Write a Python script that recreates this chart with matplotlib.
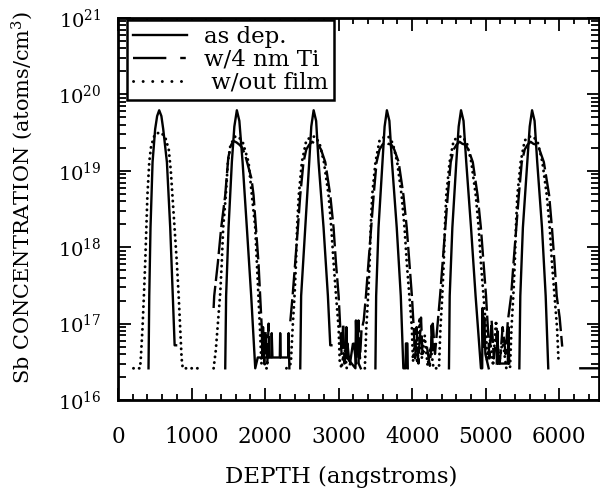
import matplotlib
matplotlib.use('Agg')
import matplotlib.pyplot as plt
from matplotlib.lines import Line2D
from matplotlib.ticker import MultipleLocator, LogLocator, NullFormatter, FixedLocator

nan = float('nan')

# ---- data ----
asdep_depth = [415, 425, 442, 470, 505, 532, 560, 590, 615, 665, 710, 745, 770, 790, nan,
               1458, 1470, 1503, 1548, 1582, 1616, 1650, 1694, 1752, 1811, 1866, 1900, 1960, 1965, 1975,
               2085, 2090, 2100, 2200, 2205, 2212, 2315, 2320, 2330, nan,
               2478, 2490, 2546, 2600, 2628, 2660,
               2694, 2727, 2795, 2854, 2886, 2902, nan,
               3060, 3100, 3105, 3112, 3228, 3235, 3248, 3262, 3272, 3300, nan,
               3500, 3510, 3542, 3596, 3625, 3656, 3690, 3725, 3790, 3845, 3880, 3910, 3915, 3935, 3940, nan,
               4258, 4265, 4282, nan,
               4500, 4510, 4546, 4600, 4632, 4664, 4698, 4735, 4800, 4862, 4935, 4952, 4956, 4966, 4980,
               4995, 5040, nan, 5150, 5158, 5168, 5300, 5308, 5318, nan,
               5457, 5470, 5505, 5565, 5598, 5630, 5664, 5700, 5765, 5815, 5850]
asdep_conc = [2.6e16, 2.3e17, 1.8e18, 1.3e19, 3.5e19, 5.2e19, 6.2e19, 5.2e19, 3.5e19, 1.3e19, 1.8e18, 2.3e17, 5.2e16, 5.2e16, nan,
              2.6e16, 2.3e17, 1.8e18, 1.3e19, 3.8e19, 6.2e19, 4.5e19, 1.3e19, 1.8e18, 2.3e17, 2.6e16, 3.6e16, 3.6e16, 7.5e16, 3.6e16,
              3.6e16, 7.5e16, 3.6e16, 3.6e16, 7.5e16, 3.6e16, 3.6e16, 7.5e16, 2.6e16, nan,
              2.6e16, 2.3e17, 1.8e18, 1.3e19, 3.8e19, 6.2e19,
              4.5e19, 1.3e19, 1.8e18, 2.3e17, 5.2e16, 5.2e16, nan,
              3.6e16, 3.6e16, 9e16, 3.6e16, 2.6e16, 1.1e17, 4e16, 1.0e17, 3.0e16, 2.6e16, nan,
              2.6e16, 2.3e17, 1.8e18, 1.3e19, 3.8e19, 6.2e19, 4.5e19, 1.3e19, 1.8e18, 2.3e17, 2.6e16, 2.6e16, 5.5e16, 5.5e16, 2.6e16, nan,
              4.5e16, 9.5e16, 4.5e16, nan,
              2.6e16, 2.3e17, 1.8e18, 1.3e19, 3.8e19, 6.2e19, 4.5e19, 1.3e19, 1.8e18, 2.3e17, 2.6e16, 2.6e16, 1.6e17, 5e16, 1.2e17,
              4e16, 2.6e16, nan, 3e16, 8e16, 3e16, 3e16, 9e16, 3e16, nan,
              2.6e16, 2.3e17, 1.8e18, 1.3e19, 3.8e19, 6.2e19, 4.5e19, 1.3e19, 1.8e18, 2.3e17, 2.6e16]

ti_depth = [1300, 1308, 1358, 1403, 1458, 1500, 1540, 1575, 1612, 1650, 1690, 1730, 1775, 1815, 1843, 1875, 1910, 1933,
            1955, 1962, 1972, 1988, 2008, 2030, 2048, 2060, 2085, nan,
            2343, 2374, 2410, 2446, 2478, 2522, 2560, 2600, 2640, 2680, 2720, 2760, 2818, 2886, 2931, 2963, 3000, 3022,
            3040, 3062, 3080, 3120, 3150, 3200, 3240, 3270, 3290, 3310,
            3341, 3371, 3406, 3441, 3476, 3516, 3556, 3596, 3636, 3676, 3716, 3756, 3816, 3881, 3926, 3961, 3996, 4021,
            4040, 4060, 4085, 4120, 4140, 4200, 4240, 4280, 4310,
            4349, 4379, 4414, 4449, 4484, 4524, 4564, 4604, 4644, 4684, 4724, 4764, 4824, 4889, 4934, 4969, 5004, 5029,
            5050, 5080, 5110, 5150, 5190, 5230, 5270,
            5300, 5345, 5378, 5415, 5450, 5490, 5530, 5570, 5610, 5650, 5690, 5730, 5790, 5862, 5900, 5935, 5965, 6005, 6040,
            nan, 6270, 6540]
ti_conc = [1.6e17, 2.3e17, 6.3e17, 1.8e18, 4.8e18, 1.5e19, 2.2e19, 2.45e19, 2.35e19, 2.2e19, 2.0e19, 1.6e19, 1.1e19, 7.9e18, 4.8e18, 1.8e18, 6.3e17, 2.3e17,
           8.7e16, 4e16, 9e16, 3e16, 8e16, 3e16, 1.0e17, 3.5e16, 3.5e16, nan,
           1.07e17, 2.3e17, 6.3e17, 1.8e18, 4.8e18, 1.3e19, 1.9e19, 2.2e19, 2.4e19, 2.25e19, 2.2e19, 1.9e19, 1.3e19, 4.8e18, 1.8e18, 6.3e17, 2.3e17, 8.7e16,
           4e16, 1e17, 3e16, 5.5e16, 2.8e16, 6e16, 3e16, 1.1e17, 3.5e16, 8e16,
           1.1e17, 2.3e17, 6.3e17, 1.8e18, 4.8e18, 1.3e19, 1.9e19, 2.2e19, 2.4e19, 2.25e19, 2.2e19, 1.9e19, 1.3e19, 4.8e18, 1.8e18, 6.3e17, 2.3e17, 8.7e16,
           3.5e16, 9e16, 3e16, 1.2e17, 4e16, 5e16, 2.8e16, 1.0e17, 4e16,
           1.07e17, 2.3e17, 6.3e17, 1.8e18, 4.8e18, 1.3e19, 1.9e19, 2.2e19, 2.4e19, 2.25e19, 2.2e19, 1.9e19, 1.3e19, 4.8e18, 1.8e18, 6.3e17, 2.3e17, 8.7e16,
           3.5e16, 1.1e17, 3.5e16, 7e16, 3e16, 9e16, 4e16,
           1.07e17, 2.3e17, 6.3e17, 1.8e18, 4.8e18, 1.3e19, 1.9e19, 2.2e19, 2.4e19, 2.25e19, 2.2e19, 1.9e19, 1.3e19, 4.8e18, 1.8e18, 6.3e17, 2.3e17, 1.2e17, 5e16,
           nan, 2.6e16, 2.6e16]

nofilm_depth = [210, 300, 310, 333, 352, 370, 385, 400, 425, 450, 500, 575, 640, 690, 718, 740, 770, 800, 825, 845, 865, 880, 1120, nan,
                1300, 1330, 1358, 1390, 1411, 1430, 1466, 1494, 1530, 1593, 1640, 1700, 1775, 1820, 1866, 1888, 1910, 1930,
                1950, 1975, 2000, 2075, nan,
                2290, 2350, 2374, 2400, 2420, 2435, 2458, 2500, 2560, 2630, 2680, 2740, 2800, 2863, 2900, 2931, 2965, 3000,
                3015, 3040, 3080, 3110, 3160, nan,
                3356, 3376, 3401, 3421, 3436, 3456, 3501, 3556, 3626, 3676, 3736, 3796, 3856, 3896, 3926, 3961, 3996,
                4011, 4040, 4070, 4100, 4130, 4170, 4210, 4250, 4290,
                4364, 4384, 4409, 4429, 4444, 4464, 4509, 4564, 4634, 4684, 4744, 4804, 4864, 4904, 4934, 4969, 5004,
                5019, 5060, 5100, 5140, 5180, 5230, 5280,
                5330, 5350, 5375, 5395, 5410, 5430, 5475, 5530, 5600, 5650, 5710, 5770, 5830, 5870, 5900, 5935, 5970, 5990]
nofilm_conc = [2.6e16, 2.6e16, 3.5e16, 8.7e16, 2.3e17, 6.3e17, 1.8e18, 4.8e18, 1.3e19, 2.1e19, 3.0e19, 3.2e19, 2.8e19, 1.9e19, 1.0e19, 4.8e18, 1.8e18, 6.3e17, 2.3e17, 8.7e16, 3.5e16, 2.6e16, 2.6e16, nan,
               2.6e16, 4.5e16, 1.0e17, 2.5e17, 6.3e17, 1.8e18, 4.8e18, 1.3e19, 2.2e19, 2.8e19, 2.8e19, 2.3e19, 1.3e19, 4.8e18, 1.8e18, 6.3e17, 2.3e17, 8.7e16,
               3.0e16, 5e16, 2.6e16, 2.6e16, nan,
               2.6e16, 3e16, 8.7e16, 2.3e17, 6.3e17, 1.8e18, 4.8e18, 1.3e19, 2.5e19, 2.8e19, 2.8e19, 2.3e19, 1.3e19, 4.8e18, 1.8e18, 6.3e17, 2.3e17, 8.7e16,
               3.2e16, 2.6e16, 5e16, 2.6e16, 2.6e16, nan,
               2.6e16, 8.7e16, 2.3e17, 6.3e17, 1.8e18, 4.8e18, 1.3e19, 2.5e19, 2.8e19, 2.8e19, 2.3e19, 1.3e19, 4.8e18, 1.8e18, 6.3e17, 2.3e17, 8.7e16,
               3.2e16, 6e16, 3e16, 1.2e17, 3.5e16, 7e16, 2.8e16, 5e16, 2.6e16,
               2.6e16, 8.7e16, 2.3e17, 6.3e17, 1.8e18, 4.8e18, 1.3e19, 2.5e19, 2.8e19, 2.8e19, 2.3e19, 1.3e19, 4.8e18, 1.8e18, 6.3e17, 2.3e17, 8.7e16,
               3.2e16, 6e16, 2.8e16, 1.1e17, 3e16, 6e16, 2.6e16,
               2.6e16, 8.7e16, 2.3e17, 6.3e17, 1.8e18, 4.8e18, 1.3e19, 2.5e19, 2.8e19, 2.8e19, 2.3e19, 1.3e19, 4.8e18, 1.8e18, 6.3e17, 2.3e17, 8.7e16, 3.2e16]

series_labels = ['as dep.', 'w/4 nm Ti', ' w/out film']
x_ticks = [0, 1000, 2000, 3000, 4000, 5000, 6000]
y_ticks = [1e16, 1e17, 1e18, 1e19, 1e20, 1e21]
y_tick_labels = [r'$\mathregular{10^{16}}$', r'$\mathregular{10^{17}}$', r'$\mathregular{10^{18}}$',
                 r'$\mathregular{10^{19}}$', r'$\mathregular{10^{20}}$', r'$\mathregular{10^{21}}$']

# ---- figure ----
plt.rcParams['font.family'] = ['DejaVu Serif']
plt.rcParams['mathtext.fontset'] = 'dejavuserif'
plt.rcParams['lines.scale_dashes'] = False

W, H = 600, 495
fig = plt.figure(figsize=(W / 100, H / 100), dpi=100)
left, right, top, bottom = 118, 599, 18, 400
ax = fig.add_axes([left / W, 1 - bottom / H, (right - left) / W, (bottom - top) / H])

ax.set_yscale('log')
ax.set_xlim(0, 6540)
ax.set_ylim(1e16, 1e21)

ax.plot(asdep_depth, asdep_conc, color='black', lw=1.7, solid_joinstyle='round')
ax.plot(ti_depth, ti_conc, color='black', lw=1.7, dashes=(16, 3.5))
ax.plot(nofilm_depth, nofilm_conc, color='black', lw=2.1, dashes=(0.1, 4.0), dash_capstyle='round')

ax.xaxis.set_major_locator(FixedLocator(x_ticks))
ax.xaxis.set_minor_locator(MultipleLocator(200))
ax.set_xticklabels([str(t) for t in x_ticks])
ax.yaxis.set_major_locator(FixedLocator(y_ticks))
ax.set_yticklabels(y_tick_labels)
ax.yaxis.set_minor_locator(LogLocator(base=10, subs=[2, 3, 4, 5, 6, 7, 8, 9], numticks=20))
ax.yaxis.set_minor_formatter(NullFormatter())

ax.tick_params(which='both', direction='in', top=True, right=True, width=1.3, colors='black')
ax.tick_params(axis='x', which='major', length=9, pad=19, labelsize=15.5)
ax.tick_params(axis='x', which='minor', length=4)
ax.tick_params(axis='y', which='major', length=9, pad=12, labelsize=14)
ax.tick_params(axis='y', which='minor', length=6)
for s in ax.spines.values():
    s.set_linewidth(2.0)

handles = [Line2D([], [], color='black', lw=1.7),
           Line2D([], [], color='black', lw=1.7, dashes=(24, 10, 4, 10)),
           Line2D([], [], color='black', lw=2.1, dashes=(0.1, 6.8), dash_capstyle='round')]
leg = ax.legend(handles, series_labels, loc='upper left', bbox_to_anchor=(0.019, 0.995),
                borderaxespad=0, fontsize=16.5, handlelength=2.35, handletextpad=0.75,
                labelspacing=0.05, borderpad=0.25, fancybox=False, framealpha=1,
                edgecolor='black')
leg.get_frame().set_linewidth(1.8)

fig.text(341 / W, 1 - 477 / H, 'DEPTH (angstroms)', ha='center', va='center', fontsize=16.5)
fig.text(22 / W, 1 - 197 / H, r'Sb CONCENTRATION (atoms/cm$^3$)', ha='center', va='center',
         rotation=90, fontsize=15)

fig.savefig('out.png', dpi=100)
